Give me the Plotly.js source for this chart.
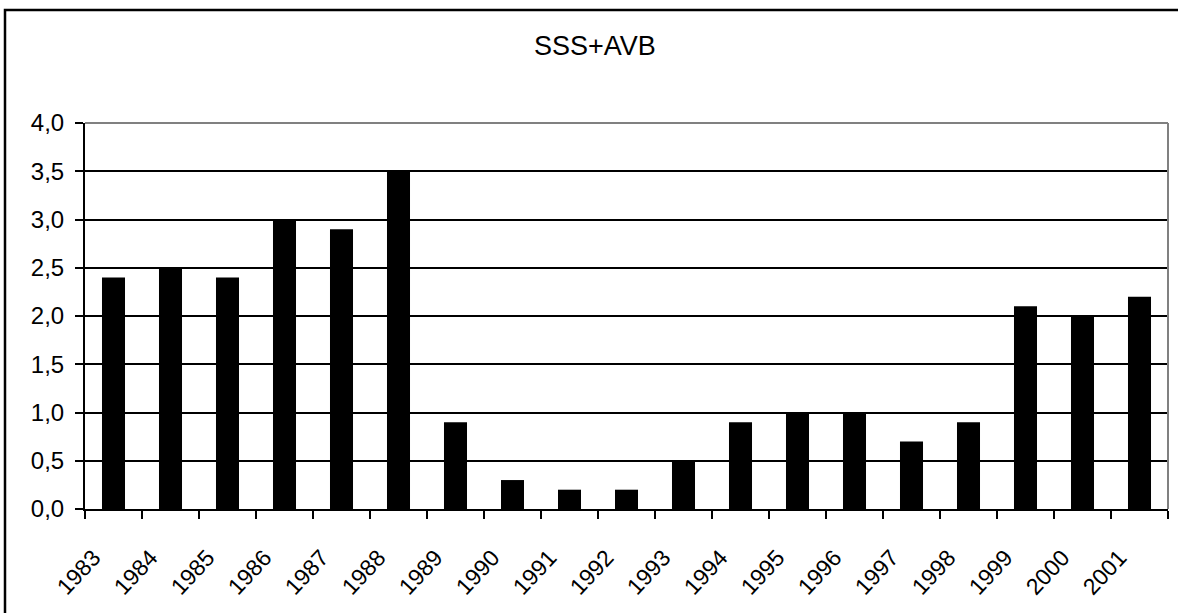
<!DOCTYPE html>
<html>
<head>
<meta charset="utf-8">
<script src="https://cdn.plot.ly/plotly-3.0.1.min.js"></script>
<style>
html,body{margin:0;padding:0;background:#fff;}
#chart{width:1178px;height:613px;}
</style>
</head>
<body>
<div id="chart"></div>
<script>
const years = ['1983','1984','1985','1986','1987','1988','1989','1990','1991','1992','1993','1994','1995','1996','1997','1998','1999','2000','2001'];
const values = [2.4, 2.5, 2.4, 3.0, 2.9, 3.5, 0.9, 0.3, 0.2, 0.2, 0.5, 0.9, 1.0, 1.0, 0.7, 0.9, 2.1, 2.0, 2.2];
const yTicks = [0, 0.5, 1.0, 1.5, 2.0, 2.5, 3.0, 3.5, 4.0];
const chartTitle = 'SSS+AVB';

const W = 1178, H = 613;
const m = {l: 85, r: 10, t: 123, b: 104};
const pw = W - m.l - m.r, ph = H - m.t - m.b;
const px = v => (v - m.l) / pw;
const py = v => 1 - (v - m.t) / ph;

const font = 'Liberation Sans, Arial, sans-serif';

const data = [{
  type: 'bar',
  x: years,
  y: values,
  marker: {color: '#000000', line: {color: '#000000', width: 0}},
  hoverinfo: 'x+y'
}];

const layout = {
  width: W, height: H,
  margin: m,
  paper_bgcolor: '#ffffff',
  plot_bgcolor: '#ffffff',
  separators: ', ',
  bargap: 0.596,
  showlegend: false,
  font: {family: font, color: '#000000'},
  title: {
    text: chartTitle,
    font: {family: font, size: 27, color: '#000000'},
    x: 0.505, xref: 'container', xanchor: 'center',
    y: 1 - 46 / H, yref: 'container', yanchor: 'middle'
  },
  xaxis: {
    type: 'category',
    tickson: 'boundaries',
    ticks: 'outside', ticklen: 8, tickwidth: 2, tickcolor: '#000000',
    showline: true, linecolor: '#000000', linewidth: 2,
    showgrid: false, zeroline: false,
    tickangle: -47,
    ticklabelshift: -20,
    ticklabelstandoff: 24,
    tickfont: {family: font, size: 23, color: '#000000'},
    fixedrange: true
  },
  yaxis: {
    range: [0, 4],
    tickvals: yTicks,
    tickformat: '.1f',
    ticks: 'outside', ticklen: 8, tickwidth: 2, tickcolor: '#000000',
    showline: true, linecolor: '#000000', linewidth: 2,
    showgrid: true, gridcolor: '#000000', gridwidth: 2,
    zeroline: false,
    ticklabelstandoff: 6,
    tickfont: {family: font, size: 24, color: '#000000'},
    fixedrange: true
  },
  shapes: [
    {type: 'line', xref: 'paper', yref: 'paper', x0: 0, x1: 1, y0: 1, y1: 1,
     line: {color: '#808080', width: 2}, layer: 'above'},
    {type: 'line', xref: 'paper', yref: 'paper', x0: 1, x1: 1, y0: 0, y1: 1,
     line: {color: '#808080', width: 2}, layer: 'above'},
    {type: 'rect', xref: 'paper', yref: 'paper',
     x0: px(5), x1: px(1180), y0: py(10), y1: py(620),
     line: {color: '#000000', width: 2.5}, layer: 'above'}
  ]
};

Plotly.newPlot('chart', data, layout, {displayModeBar: false, staticPlot: true});
</script>
</body>
</html>
